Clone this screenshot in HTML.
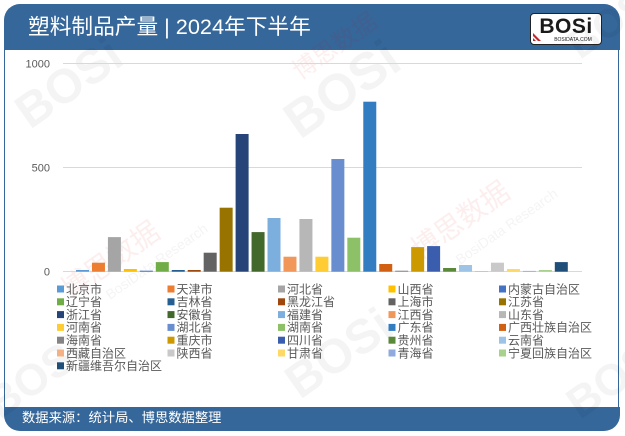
<!DOCTYPE html>
<html><head><meta charset="utf-8"><style>
html,body{margin:0;padding:0;background:#fff;}
body{width:625px;height:436px;position:relative;overflow:hidden;font-family:"Liberation Sans","Noto Sans CJK SC",sans-serif;}
.card{position:absolute;left:4px;top:4px;width:616px;height:427px;border-radius:16px;background:#fff;overflow:hidden;}
.hdr{position:absolute;left:0;top:0;width:616px;height:46px;background:#35679a;}
.title{position:absolute;left:24px;top:0;height:46px;line-height:46px;color:#fff;font-size:21.7px;white-space:nowrap;}
.body{position:absolute;left:0;top:46px;width:613px;height:357px;border-left:1.5px solid #35679a;border-right:1.5px solid #35679a;background:#fff;}
.ftr{position:absolute;left:0;top:403px;width:616px;height:24px;background:#35679a;}
.ftxt{position:absolute;left:18px;top:0;height:24px;line-height:22px;color:#fff;font-size:13.3px;white-space:nowrap;}
.logo{position:absolute;left:526px;top:9px;width:70px;height:30px;background:#fff;border:1.5px solid #222;border-radius:4px;}
svg{position:absolute;left:0;top:0;}
</style></head><body>
<div class="card">
  <div class="hdr"><div class="title">塑料制品产量 | 2024年下半年</div>
    <div class="logo"></div>
  </div>
  <div class="body"></div>
  <div class="ftr"><div class="ftxt">数据来源：统计局、博思数据整理</div></div>
</div>
<svg width="625" height="436" viewBox="0 0 625 436" xmlns="http://www.w3.org/2000/svg" font-family="Liberation Sans, Noto Sans CJK SC, sans-serif">
  <text x="566" y="33" text-anchor="middle" font-size="21" font-weight="bold" fill="#1a1a1a" letter-spacing="0.5">BOSi</text>
  <text x="573" y="41" text-anchor="middle" font-size="5" fill="#222">BOSIDATA.COM</text>
  <polygon points="533,33 541,41 538,41 533,36" fill="#c0282d"/>
  <polygon points="533,38 536,41 533,41" fill="#c0282d"/>
  <g fill="#000" opacity="0.045" font-weight="bold">
    <text x="30" y="130" font-size="48" transform="rotate(-35 30 130)">BOSi</text>
    <text x="300" y="140" font-size="52" transform="rotate(-35 300 140)">BOSi</text>
    <text x="300" y="400" font-size="48" transform="rotate(-35 300 400)">BOSi</text>
    <text x="0" y="420" font-size="44" transform="rotate(-35 0 420)">BOSi</text>
    <text x="580" y="420" font-size="44" transform="rotate(-35 580 420)">BOSi</text>
    <text x="580" y="60" font-size="40" transform="rotate(-35 580 60)">BOSi</text>
  </g>
  <g fill="#d00" opacity="0.07">
    <text x="70" y="300" font-size="28" transform="rotate(-35 70 300)">博思数据</text>
    <text x="420" y="260" font-size="28" transform="rotate(-35 420 260)">博思数据</text>
    <text x="300" y="80" font-size="24" transform="rotate(-35 300 80)">博思数据</text>
  </g>
  <g fill="#000" opacity="0.045">
    <text x="110" y="300" font-size="14" transform="rotate(-35 110 300)">BosiData Research</text>
    <text x="460" y="265" font-size="14" transform="rotate(-35 460 265)">BosiData Research</text>
  </g>
  <g stroke="#d9d9d9" stroke-width="1">
    <line x1="63" y1="63.5" x2="582" y2="63.5"/>
    <line x1="63" y1="167.5" x2="582" y2="167.5"/>
    <line x1="63" y1="271.5" x2="582" y2="271.5"/>
  </g>
  <g font-size="11" fill="#595959" text-anchor="end">
    <text x="50" y="67.5">1000</text>
    <text x="50" y="171.5">500</text>
    <text x="50" y="275.5">0</text>
  </g>
  <g>
    <rect x="76.00" y="270.0" width="13" height="1.7" fill="#5B9BD5"/>
    <rect x="91.96" y="262.7" width="13" height="9.0" fill="#ED7D31"/>
    <rect x="107.92" y="237.1" width="13" height="34.6" fill="#A5A5A5"/>
    <rect x="123.88" y="269.0" width="13" height="2.7" fill="#FFC000"/>
    <rect x="139.84" y="270.7" width="13" height="1.0" fill="#4472C4"/>
    <rect x="155.80" y="262.1" width="13" height="9.6" fill="#70AD47"/>
    <rect x="171.76" y="270.0" width="13" height="1.7" fill="#255E91"/>
    <rect x="187.72" y="270.0" width="13" height="1.7" fill="#9E480E"/>
    <rect x="203.68" y="252.7" width="13" height="19.0" fill="#636363"/>
    <rect x="219.64" y="207.7" width="13" height="64.0" fill="#997300"/>
    <rect x="235.60" y="134.0" width="13" height="137.7" fill="#264478"/>
    <rect x="251.56" y="232.1" width="13" height="39.6" fill="#43682B"/>
    <rect x="267.52" y="218.0" width="13" height="53.7" fill="#7CAFDD"/>
    <rect x="283.48" y="256.7" width="13" height="15.0" fill="#F1975A"/>
    <rect x="299.44" y="219.0" width="13" height="52.7" fill="#B7B7B7"/>
    <rect x="315.40" y="256.7" width="13" height="15.0" fill="#FFCD33"/>
    <rect x="331.36" y="159.0" width="13" height="112.7" fill="#698ED0"/>
    <rect x="347.32" y="237.7" width="13" height="34.0" fill="#8CC168"/>
    <rect x="363.28" y="101.7" width="13" height="170.0" fill="#327DC2"/>
    <rect x="379.24" y="264.0" width="13" height="7.7" fill="#D26012"/>
    <rect x="395.20" y="270.7" width="13" height="1.0" fill="#848484"/>
    <rect x="411.16" y="247.1" width="13" height="24.6" fill="#CC9A00"/>
    <rect x="427.12" y="246.1" width="13" height="25.6" fill="#3A5DAE"/>
    <rect x="443.08" y="268.0" width="13" height="3.7" fill="#5A8A39"/>
    <rect x="459.04" y="265.0" width="13" height="6.7" fill="#9DC3E6"/>
    <rect x="475.00" y="271.0" width="13" height="0.7" fill="#F4B183"/>
    <rect x="490.96" y="262.7" width="13" height="9.0" fill="#C9C9C9"/>
    <rect x="506.92" y="269.0" width="13" height="2.7" fill="#FFD966"/>
    <rect x="522.88" y="270.9" width="13" height="0.8" fill="#8FAADC"/>
    <rect x="538.84" y="270.0" width="13" height="1.7" fill="#A9D18E"/>
    <rect x="554.80" y="262.1" width="13" height="9.6" fill="#1F4E79"/>
  </g>
  <g font-size="12" fill="#595959">
    <rect x="57" y="285.5" width="7" height="7" fill="#5B9BD5"/><text x="66" y="293.3">北京市</text>
    <rect x="167.5" y="285.5" width="7" height="7" fill="#ED7D31"/><text x="176.5" y="293.3">天津市</text>
    <rect x="278" y="285.5" width="7" height="7" fill="#A5A5A5"/><text x="287" y="293.3">河北省</text>
    <rect x="388.5" y="285.5" width="7" height="7" fill="#FFC000"/><text x="397.5" y="293.3">山西省</text>
    <rect x="499" y="285.5" width="7" height="7" fill="#4472C4"/><text x="508" y="293.3">内蒙古自治区</text>
    <rect x="57" y="298.3" width="7" height="7" fill="#70AD47"/><text x="66" y="306.1">辽宁省</text>
    <rect x="167.5" y="298.3" width="7" height="7" fill="#255E91"/><text x="176.5" y="306.1">吉林省</text>
    <rect x="278" y="298.3" width="7" height="7" fill="#9E480E"/><text x="287" y="306.1">黑龙江省</text>
    <rect x="388.5" y="298.3" width="7" height="7" fill="#636363"/><text x="397.5" y="306.1">上海市</text>
    <rect x="499" y="298.3" width="7" height="7" fill="#997300"/><text x="508" y="306.1">江苏省</text>
    <rect x="57" y="311.1" width="7" height="7" fill="#264478"/><text x="66" y="318.9">浙江省</text>
    <rect x="167.5" y="311.1" width="7" height="7" fill="#43682B"/><text x="176.5" y="318.9">安徽省</text>
    <rect x="278" y="311.1" width="7" height="7" fill="#7CAFDD"/><text x="287" y="318.9">福建省</text>
    <rect x="388.5" y="311.1" width="7" height="7" fill="#F1975A"/><text x="397.5" y="318.9">江西省</text>
    <rect x="499" y="311.1" width="7" height="7" fill="#B7B7B7"/><text x="508" y="318.9">山东省</text>
    <rect x="57" y="323.9" width="7" height="7" fill="#FFCD33"/><text x="66" y="331.7">河南省</text>
    <rect x="167.5" y="323.9" width="7" height="7" fill="#698ED0"/><text x="176.5" y="331.7">湖北省</text>
    <rect x="278" y="323.9" width="7" height="7" fill="#8CC168"/><text x="287" y="331.7">湖南省</text>
    <rect x="388.5" y="323.9" width="7" height="7" fill="#327DC2"/><text x="397.5" y="331.7">广东省</text>
    <rect x="499" y="323.9" width="7" height="7" fill="#D26012"/><text x="508" y="331.7">广西壮族自治区</text>
    <rect x="57" y="336.7" width="7" height="7" fill="#848484"/><text x="66" y="344.5">海南省</text>
    <rect x="167.5" y="336.7" width="7" height="7" fill="#CC9A00"/><text x="176.5" y="344.5">重庆市</text>
    <rect x="278" y="336.7" width="7" height="7" fill="#3A5DAE"/><text x="287" y="344.5">四川省</text>
    <rect x="388.5" y="336.7" width="7" height="7" fill="#5A8A39"/><text x="397.5" y="344.5">贵州省</text>
    <rect x="499" y="336.7" width="7" height="7" fill="#9DC3E6"/><text x="508" y="344.5">云南省</text>
    <rect x="57" y="349.5" width="7" height="7" fill="#F4B183"/><text x="66" y="357.3">西藏自治区</text>
    <rect x="167.5" y="349.5" width="7" height="7" fill="#C9C9C9"/><text x="176.5" y="357.3">陕西省</text>
    <rect x="278" y="349.5" width="7" height="7" fill="#FFD966"/><text x="287" y="357.3">甘肃省</text>
    <rect x="388.5" y="349.5" width="7" height="7" fill="#8FAADC"/><text x="397.5" y="357.3">青海省</text>
    <rect x="499" y="349.5" width="7" height="7" fill="#A9D18E"/><text x="508" y="357.3">宁夏回族自治区</text>
    <rect x="57" y="362.3" width="7" height="7" fill="#1F4E79"/><text x="66" y="370.1">新疆维吾尔自治区</text>
  </g>
</svg>
</body></html>
